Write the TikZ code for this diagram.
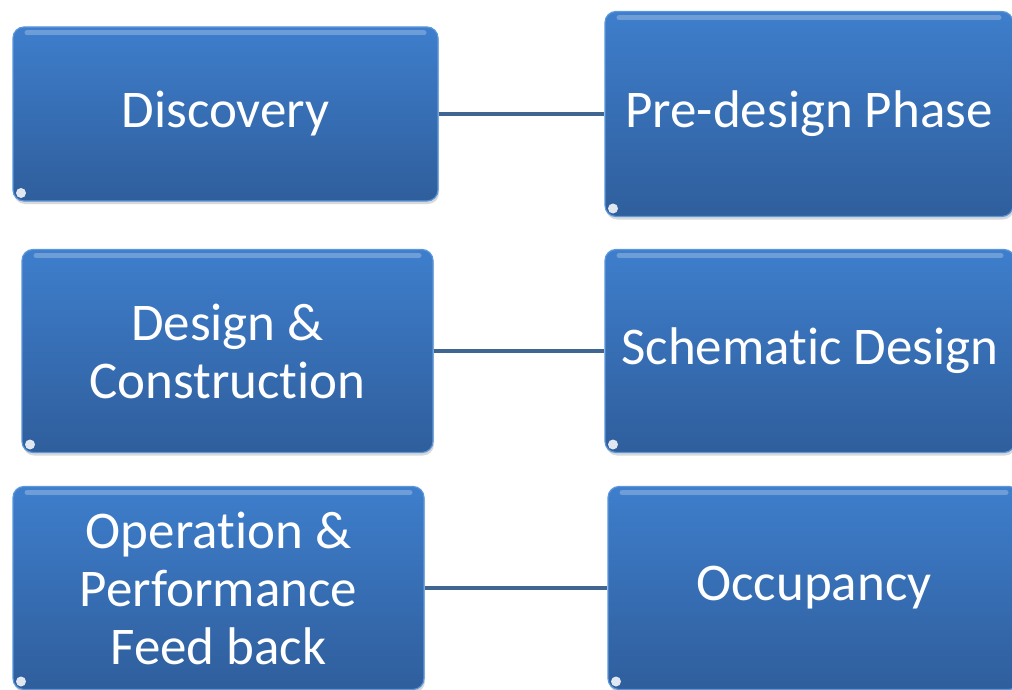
\documentclass[tikz,border=0pt]{standalone}
\usepackage{fontspec}
\setmainfont{Carlito}[Ligatures=NoCommon]
\usetikzlibrary{shadows}
\definecolor{phasetop}{HTML}{3E7ECC}
\definecolor{phasebot}{HTML}{2F5E9C}
\definecolor{phaseedge}{HTML}{5B97DA}
\definecolor{linkcol}{HTML}{3F6590}
\tikzset{
  phase/.style={rectangle, rounded corners=11pt, draw=phaseedge, line width=1.2pt,
    top color=phasetop, bottom color=phasebot, text=white, align=center,
    inner sep=0pt, font=\fontsize{53}{58}\selectfont,
    drop shadow={opacity=0.3, shadow xshift=1pt, shadow yshift=-3pt},
    path picture={
      \draw[white, opacity=0.25, line width=5pt, line cap=round]
        ([xshift=14pt,yshift=-6pt]path picture bounding box.north west) --
        ([xshift=-14pt,yshift=-6pt]path picture bounding box.north east);
      \fill[white, opacity=0.85]
        ([xshift=8pt,yshift=8pt]path picture bounding box.south west) circle (5pt);
    }},
  link/.style={draw=linkcol, line width=4.5pt}
}
\begin{document}
\begin{tikzpicture}[x=1pt, y=-1pt]
    \useasboundingbox (0,0) rectangle (1012,690);

    \node (D) [phase, minimum width=425pt, minimum height=174pt] at (225.5,114) {Discovery};
    \node (P) [phase, right of=D, node distance=583.5pt, minimum width=408pt, minimum height=205pt] {Pre-design Phase};

    \node (C) [phase, minimum width=411pt, minimum height=203pt] at (227.5,351) {Design \&\\Construction};
    \node (S) [phase, right of=C, node distance=582.5pt, minimum width=410pt, minimum height=203pt] {Schematic Design};

    \node (F) [phase, minimum width=411pt, minimum height=203pt] at (218.5,588) {Operation \&\\Performance\\Feed back};
    \node (O) [phase, right of=F, node distance=595.5pt, minimum width=412pt, minimum height=203pt] {Occupancy};

    \path [link] (D) edge (P)
                 (C) edge (S)
                 (F) edge (O);
\end{tikzpicture}
\end{document}
